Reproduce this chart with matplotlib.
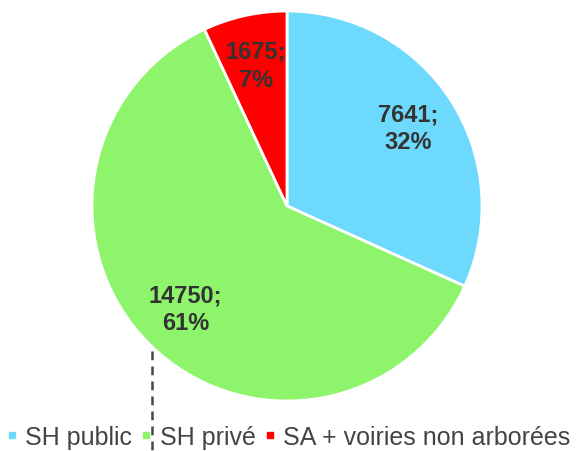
import matplotlib
matplotlib.use('Agg')
import matplotlib.pyplot as plt
from matplotlib.lines import Line2D

labels = ['SH public', 'SH privé', 'SA + voiries non arborées']
values = [7641, 14750, 1675]
colors = ['#6dd9fd', '#8ef46c', '#ff0000']

plt.rcParams['font.family'] = ['Liberation Sans', 'DejaVu Sans']

fig = plt.figure(figsize=(5.76, 4.52), dpi=100)
ax = fig.add_axes([92/576, 50/452, 390/576, 390/452])

total = sum(values)
def fmt(p):
  v = int(round(p * total / 100.0))
  return '%d;\n%d%%' % (v, round(p))

wedges, texts, autotexts = ax.pie(values, colors=colors, startangle=90, counterclock=False,
                                  autopct=fmt, pctdistance=0.74,
                                  wedgeprops=dict(edgecolor='white', linewidth=2))
for t in autotexts:
  t.set_fontsize(17)
  t.set_fontweight('bold')
  t.set_color('#333333')
  t.set_linespacing(1.3)
ax.set_aspect('equal')
ax.set_xlim(-1, 1)
ax.set_ylim(-1, 1)

# leader line under the big label
fig.add_artist(Line2D([152/576, 152/576], [1 - 352/452, 0], color='#444455', linestyle='--',
                      linewidth=1.8, dashes=(3.5, 2.5)))

handles = [Line2D([], [], marker='s', linestyle='none', markersize=5, color=c) for c in colors]
fig.legend(handles, labels, loc='lower center', bbox_to_anchor=(0.5, -0.045), ncol=3,
           frameon=False, fontsize=18, handlelength=0.5, handletextpad=0.3,
           columnspacing=0.3, labelcolor='#444444')

plt.savefig('out.png', dpi=100)
